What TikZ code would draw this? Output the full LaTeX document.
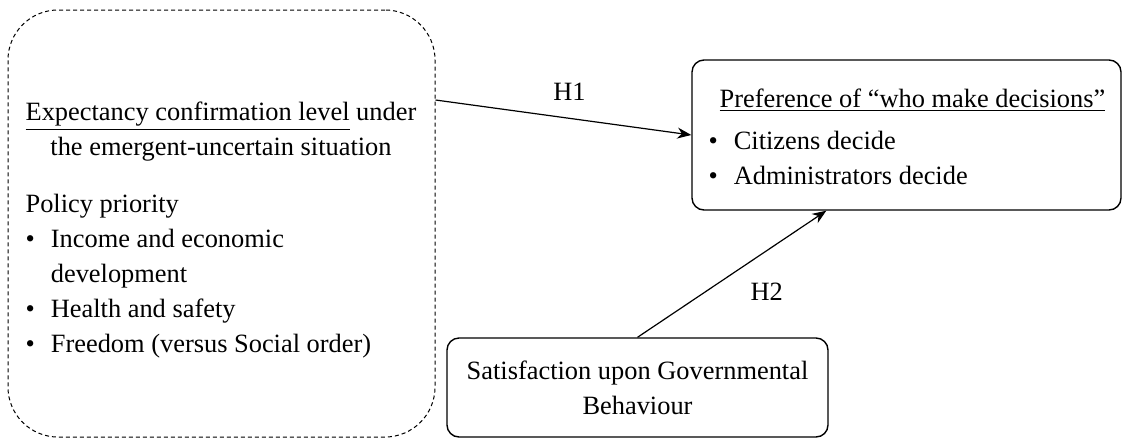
\documentclass[tikz,border=0pt]{standalone}
\usepackage{fontspec}
\setmainfont{Liberation Serif}
\usepackage{tikz}
\usetikzlibrary{arrows.meta,positioning}

\tikzset{
  txt/.style={inner sep=0pt, font=\fontsize{13.2}{17.5}\selectfont},
  outer/.style={draw, dashed, dash pattern=on 2pt off 1.5pt, line width=0.5pt, rounded corners=25pt},
  block/.style={draw, line width=0.7pt, rounded corners=6pt},
}

\begin{document}
\begin{tikzpicture}[x=0.5pt, y=-0.5pt, >={Stealth[length=7pt,width=5.5pt]}, line width=0.6pt]
			\useasboundingbox (0,0) rectangle (1123,440);
			% boxes
			\node[outer, minimum width=213.5pt, minimum height=213.5pt] (expect) at (221.5,223.5) {};
			\node[block, minimum width=214.5pt, minimum height=75pt] (pref) at (906.5,135) {};
			\node[block, minimum width=190.5pt, minimum height=49.5pt] (satis) at (637.5,387.5) {};
			% texts
			\node[txt, align=center] (expHead) at (221,132) {\underline{Expectancy confirmation level} under\\the emergent-uncertain situation};
			\node[txt, anchor=west] (policy) at (25,275) {\begin{tabular}{@{}l@{\hspace{8pt}}l@{}}
				\multicolumn{2}{@{}l@{}}{Policy priority}\\
				\textbullet & Income and economic\\
				 & development\\
				\textbullet & Health and safety\\
				\textbullet & Freedom (versus Social order)
			\end{tabular}};
			\node[txt] (prefHead) at (912.5,100) {\underline{Preference of ``who make decisions''}};
			\node[txt, anchor=west] (prefList) at (708,160) {\begin{tabular}{@{}l@{\hspace{8pt}}l@{}}
				\textbullet & Citizens decide\\
				\textbullet & Administrators decide
			\end{tabular}};
			\node[txt, align=center] (satisText) at (satis) {Satisfaction upon Governmental\\Behaviour};
			% hypotheses
			\path[->] 
			([yshift=61.75pt]expect.east)
			edge node[above=5pt, xshift=3pt] {\fontsize{13.2}{15}\selectfont H1} (pref.west)
			(satis.north)
			edge node[below right=1pt, xshift=5pt] {\fontsize{13.2}{15}\selectfont H2} ([xshift=67.5pt]pref.south west);
		\end{tikzpicture}
\end{document}
